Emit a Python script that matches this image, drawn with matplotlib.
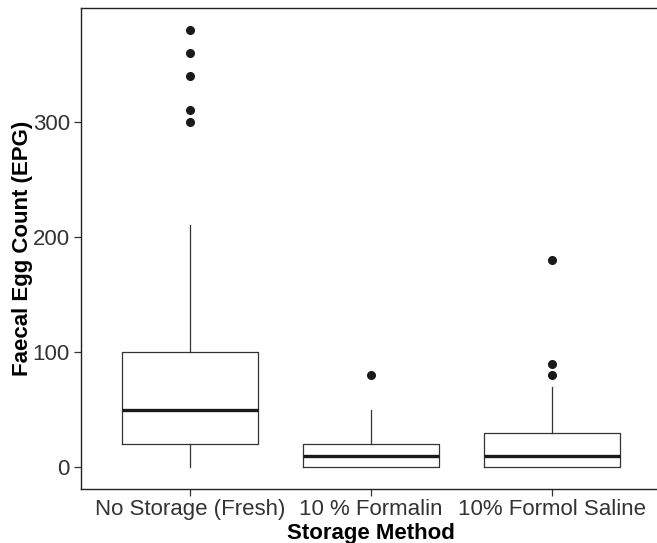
import matplotlib
matplotlib.use('Agg')
import matplotlib.pyplot as plt

plt.rcParams['font.family'] = ['Liberation Sans', 'DejaVu Sans']

# box summaries
groups = ['No Storage (Fresh)', '10 % Formalin', '10% Formol Saline']
whislo = [0, 0, 0]
q1 = [20, 0, 0]
med = [50, 10, 10]
q3 = [100, 20, 30]
whishi = [210, 50, 70]
fliers = [[300, 310, 340, 360, 380], [80], [80, 90, 180]]

stats = []
for i, g in enumerate(groups):
  stats.append(dict(label=g, whislo=whislo[i], q1=q1[i], med=med[i],
                    q3=q3[i], whishi=whishi[i], fliers=fliers[i]))

fig = plt.figure(figsize=(6.57, 5.43), dpi=100)
# right edge runs past the figure, as in the reference crop
ax = fig.add_axes([81/657, 1 - 489/543, 580/657, (489 - 8)/543])

ax.bxp(stats, positions=[1, 2, 3], widths=0.75, showcaps=False,
       boxprops=dict(color='#333333', linewidth=0.9),
       whiskerprops=dict(color='#333333', linewidth=0.9),
       medianprops=dict(color='#1a1a1a', linewidth=2.4),
       flierprops=dict(marker='o', markerfacecolor='#1a1a1a', markeredgecolor='#1a1a1a',
                       markersize=5.5, linestyle='none'))

ax.set_xlim(0.4, 3.6)
ax.set_ylim(-19, 399)
ax.set_yticks([0, 100, 200, 300])

for s in ['left', 'bottom', 'top', 'right']:
  ax.spines[s].set_color('#222222')
  ax.spines[s].set_linewidth(1.0)

ax.tick_params(axis='both', colors='#333333', labelcolor='#333333', labelsize=16,
               length=5, width=0.9)
ax.tick_params(axis='y', pad=3)
ax.tick_params(axis='x', pad=2)

ax.set_xlabel('Storage Method', fontsize=16, fontweight='bold', labelpad=2)
ax.set_ylabel('Faecal Egg Count (EPG)', fontsize=16, fontweight='bold', labelpad=0)

fig.savefig('out.png', dpi=100)
